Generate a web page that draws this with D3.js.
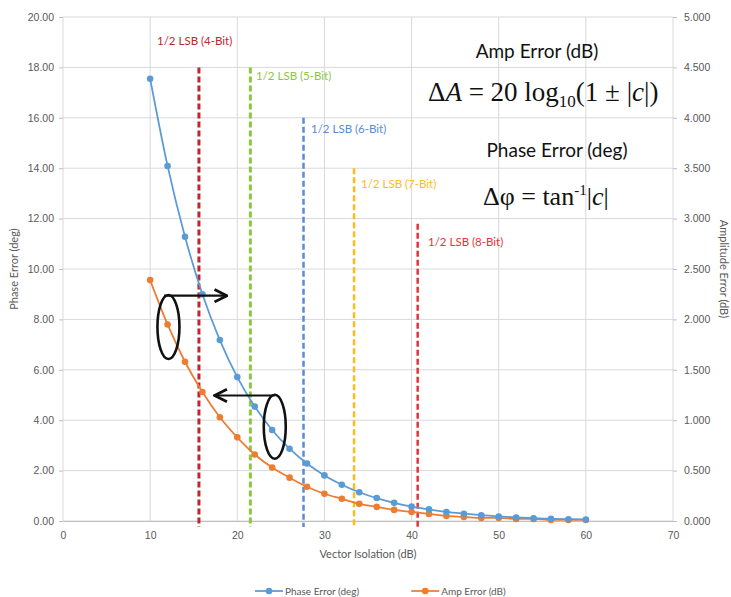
<!DOCTYPE html>
<html>
<head>
<meta charset="utf-8">
<script src="https://cdn.jsdelivr.net/npm/d3@7"></script>
<style>
  body { margin: 0; background: #fff; }
  svg { display: block; font-family: Lato, "Liberation Sans", sans-serif; }
  .grid line { stroke: #d9d9d9; stroke-width: 1; }
  .tick text { fill: #595959; font-size: 10.5px; }
  .axis path, .axis line { stroke: #bfbfbf; }
</style>
</head>
<body>
<svg id="chart" width="731" height="597"></svg>
<script>
    'use strict';

    // vector isolation (dB)
    var isolation = [10, 12, 14, 16, 18, 20, 22, 24, 26, 28, 30, 32, 34, 36, 38, 40,
        42, 44, 46, 48, 50, 52, 54, 56, 58, 60];
    // phase error (deg), left axis
    var phaseErr = [17.55, 14.09, 11.28, 9.00, 7.18, 5.71, 4.54, 3.61, 2.87, 2.28, 1.81,
        1.44, 1.14, 0.91, 0.72, 0.57, 0.46, 0.36, 0.29, 0.23, 0.18, 0.14, 0.11, 0.09, 0.07, 0.06];
    // amplitude error (dB), right axis
    var ampErr = [2.39, 1.95, 1.58, 1.28, 1.03, 0.83, 0.66, 0.53, 0.43, 0.34, 0.27,
        0.22, 0.17, 0.14, 0.11, 0.09, 0.07, 0.05, 0.04, 0.03, 0.03, 0.02, 0.02, 0.01, 0.01, 0.01];

    // 1/2 LSB markers: isolation position, top (in phase-error units)
    var lsbNames = ['1/2 LSB (4-Bit)', '1/2 LSB (5-Bit)', '1/2 LSB (6-Bit)', '1/2 LSB (7-Bit)', '1/2 LSB (8-Bit)'];
    var lsbIso = [15.6, 21.5, 27.6, 33.4, 40.7];
    var lsbTop = [18, 18, 16, 14, 11.8];
    var lsbColors = ['#c0272d', '#8dc63f', '#5b8bd0', '#fbbc1c', '#e2353b'];

    var xTicks = [0, 10, 20, 30, 40, 50, 60, 70];
    var leftTicks = d3.range(0, 20.001, 2);
    var rightTicks = d3.range(0, 5.001, 0.5);

    var blue = '#5b9bd5',
        orange = '#ed7d31';

    var svg = d3.select('#chart'),
        m = { left: 63, right: 58, top: 17, bottom: 76 },
        W = +svg.attr('width'),
        H = +svg.attr('height');

    var x = d3.scaleLinear().domain([0, 70]).range([m.left, W - m.right]),
        y = d3.scaleLinear().domain([0, 20]).range([H - m.bottom, m.top]),
        y2 = d3.scaleLinear().domain([0, 5]).range([H - m.bottom, m.top]);

    // grid
    var grid = svg.append('g').attr('class', 'grid');
    grid.selectAll('.h').data(leftTicks).enter().append('line')
        .attr('x1', x(0)).attr('x2', x(70))
        .attr('y1', function(d){ return y(d); }).attr('y2', function(d){ return y(d); });
    grid.selectAll('.v').data(xTicks).enter().append('line')
        .attr('y1', y(0)).attr('y2', y(20))
        .attr('x1', function(d){ return x(d); }).attr('x2', function(d){ return x(d); });

    // axes
    svg.append('g').attr('class', 'axis')
        .attr('transform', 'translate(0,' + y(0) + ')')
        .call(d3.axisBottom(x).tickValues(xTicks).tickSize(0).tickPadding(11))
        .select('.domain').attr('stroke', '#bfbfbf');
    svg.append('g').attr('class', 'axis')
        .attr('transform', 'translate(' + x(0) + ',0)')
        .call(d3.axisLeft(y).tickValues(leftTicks).tickFormat(d3.format('.2f')).tickSize(4).tickPadding(5))
        .select('.domain').remove();
    svg.append('g').attr('class', 'axis')
        .attr('transform', 'translate(' + x(70) + ',0)')
        .call(d3.axisRight(y2).tickValues(rightTicks).tickFormat(d3.format('.3f')).tickSize(4).tickPadding(7))
        .select('.domain').remove();
    svg.selectAll('.axis .tick line').attr('stroke', '#d9d9d9');

    // axis titles
    svg.append('text').attr('x', (x(0) + x(70)) / 2).attr('y', 558)
        .attr('text-anchor', 'middle').attr('fill', '#595959').style('font-size', '11px')
        .text('Vector Isolation (dB)');
    svg.append('text').attr('transform', 'translate(18,' + ((y(0) + y(20)) / 2) + ') rotate(-90)')
        .attr('text-anchor', 'middle').attr('fill', '#595959').style('font-size', '11px')
        .text('Phase Error (deg)');
    svg.append('text').attr('transform', 'translate(720,' + ((y(0) + y(20)) / 2) + ') rotate(90)')
        .attr('text-anchor', 'middle').attr('fill', '#595959').style('font-size', '11px')
        .text('Amplitude Error (dB)');

    // LSB dashed lines
    var lsb = svg.append('g');
    lsbIso.forEach(function(v, i){
        lsb.append('line')
            .attr('x1', x(v)).attr('x2', x(v))
            .attr('y1', y(lsbTop[i])).attr('y2', y(0) + 6)
            .attr('stroke', lsbColors[i]).attr('stroke-width', i < 2 ? 3 : 2.5)
            .attr('stroke-dasharray', '6,3');
    });
    var lsbLabelPos = [[157, 45], [256, 80], [311, 133], [361, 188], [428, 246]];
    lsbNames.forEach(function(t, i){
        lsb.append('text').attr('x', lsbLabelPos[i][0]).attr('y', lsbLabelPos[i][1])
            .attr('fill', lsbColors[i]).style('font-size', '11.5px').text(t);
    });

    // series
    var series = [
        { name: 'Phase Error (deg)', vals: phaseErr, sc: y, color: blue },
        { name: 'Amp Error (dB)', vals: ampErr, sc: y2, color: orange }
    ];
    series.slice().reverse().forEach(function(s){
        var pts = isolation.map(function(d, i){ return [x(d), s.sc(s.vals[i])]; });
        svg.append('path').attr('d', d3.line().curve(d3.curveMonotoneX)(pts))
            .attr('fill', 'none').attr('stroke', s.color).attr('stroke-width', 1.75);
        svg.append('g').selectAll('circle').data(pts).enter().append('circle')
            .attr('cx', function(d){ return d[0]; }).attr('cy', function(d){ return d[1]; })
            .attr('r', 3.3).attr('fill', s.color);
    });

    // annotations: ellipses + arrows
    var defs = svg.append('defs');
    defs.append('marker').attr('id', 'arr').attr('viewBox', '0 0 10 10')
        .attr('refX', 9).attr('refY', 5).attr('markerWidth', 7).attr('markerHeight', 7)
        .attr('orient', 'auto-start-reverse')
        .append('path').attr('d', 'M1,1 L9,5 L1,9').attr('fill', 'none')
        .attr('stroke', '#111').attr('stroke-width', 1.8);
    var ann = svg.append('g').attr('stroke', '#111').attr('fill', 'none');
    ann.append('ellipse').attr('cx', x(12.1)).attr('cy', y(7.7)).attr('rx', 11).attr('ry', 32).attr('stroke-width', 2.6);
    ann.append('ellipse').attr('cx', x(24.3)).attr('cy', y(3.74)).attr('rx', 11).attr('ry', 32).attr('stroke-width', 2.6);
    ann.append('line').attr('x1', x(11.6)).attr('x2', x(18.8)).attr('y1', y(8.94)).attr('y2', y(8.94))
        .attr('stroke-width', 2.2).attr('marker-end', 'url(#arr)');
    ann.append('line').attr('x1', x(24.3)).attr('x2', x(17.4)).attr('y1', y(4.98)).attr('y2', y(4.98))
        .attr('stroke-width', 2.2).attr('marker-end', 'url(#arr)');

    // formulas
    var f = svg.append('g').attr('fill', '#111');
    f.append('text').attr('x', 537).attr('y', 58).attr('text-anchor', 'middle')
        .style('font-size', '19px').text('Amp Error (dB)');
    var fa = f.append('text').attr('x', 428).attr('y', 101)
        .style('font-family', '"Liberation Serif", "DejaVu Serif", serif').style('font-size', '27px');
    fa.append('tspan').text('Δ');
    fa.append('tspan').style('font-style', 'italic').text('A');
    fa.append('tspan').text(' = 20 log');
    fa.append('tspan').attr('dy', 6).style('font-size', '17px').text('10');
    fa.append('tspan').attr('dy', -6).text('(1 ± |');
    fa.append('tspan').style('font-style', 'italic').text('c');
    fa.append('tspan').text('|)');
    f.append('text').attr('x', 557).attr('y', 157).attr('text-anchor', 'middle')
        .style('font-size', '19px').text('Phase Error (deg)');
    var fp = f.append('text').attr('x', 483).attr('y', 205)
        .style('font-family', '"Liberation Serif", "DejaVu Serif", serif').style('font-size', '26px');
    fp.append('tspan').text('Δφ = tan');
    fp.append('tspan').attr('dy', -10).style('font-size', '15px').text('-1');
    fp.append('tspan').attr('dy', 10).text('|');
    fp.append('tspan').style('font-style', 'italic').text('c');
    fp.append('tspan').text('|');

    // legend
    var leg = svg.append('g').attr('transform', 'translate(255,591)');
    var lx = 0;
    series.forEach(function(s){
        var g = leg.append('g').attr('transform', 'translate(' + lx + ',0)');
        g.append('line').attr('x1', 0).attr('x2', 28).attr('stroke', s.color).attr('stroke-width', 1.75);
        g.append('circle').attr('cx', 14).attr('r', 3.3).attr('fill', s.color);
        var t = g.append('text').attr('x', 30).attr('y', 3.5).attr('fill', '#595959')
            .style('font-size', '10px').text(s.name);
        lx += 30 + t.node().getComputedTextLength() + 52;
    });
</script>
</body>
</html>
